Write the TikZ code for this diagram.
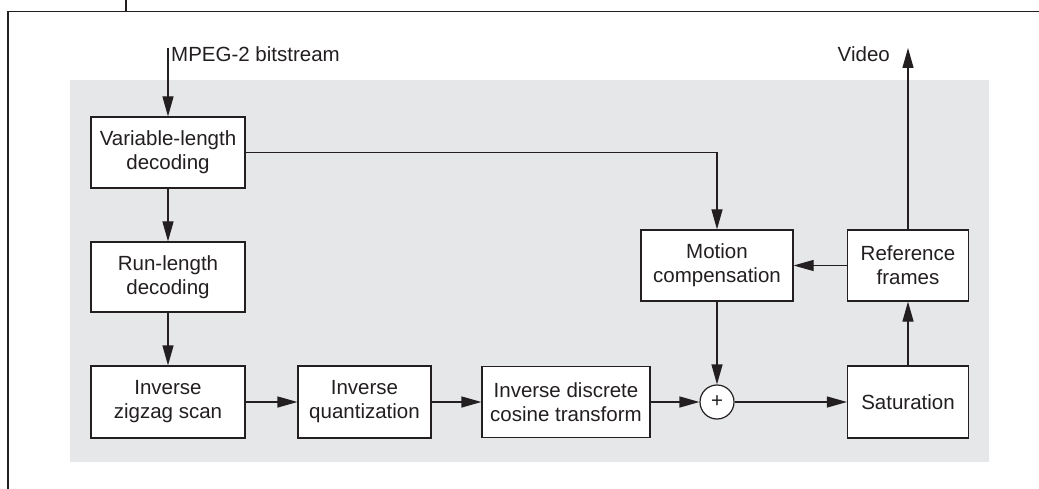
\documentclass[tikz,border=0pt]{standalone}
\usepackage{fontspec}
\setmainfont{Liberation Sans}
\usetikzlibrary{arrows.meta}
\definecolor{panel}{RGB}{230,231,233}
\definecolor{ink}{RGB}{35,31,32}
\begin{document}
\begin{tikzpicture}[x=1pt,y=-1pt,
  every node/.style={font=\fontsize{20.5}{24}\selectfont, text=ink},
  block/.style={draw=ink, line width=1.2pt, fill=white, align=center, inner sep=0pt},
  sumnode/.style={draw=ink, line width=1.2pt, fill=white, circle, minimum size=34pt, inner sep=0pt},
  label/.style={inner sep=0pt},
  flow/.style={draw=ink, line width=1.2pt, -{Triangle[length=20pt,width=11pt]}},
  frame/.style={draw=ink, line width=1.3pt}
]
\useasboundingbox (0,0) rectangle (1039,489);

% outer frame
\draw[frame] (126,0) -- (126,11.7);
\draw[frame] (1039,11.7) -- (8,11.7) -- (8,489);

% shaded decoder area
\fill[panel] (70,80) rectangle (989,462);

% processing blocks
\node[block, minimum width=154pt, minimum height=71pt] (vld) at (168,152.5) {Variable-length\\decoding};
\node[block, minimum width=154pt, minimum height=70pt] (rld) at (168,277) {Run-length\\decoding};
\node[block, minimum width=154pt, minimum height=72pt] (izz) at (168,402) {Inverse\\zigzag scan};
\node[block, minimum width=133pt, minimum height=72pt] (iq) at (364.5,402) {Inverse\\quantization};
\node[block, minimum width=168pt, minimum height=71pt] (idct) at (566,402) {Inverse discrete\\cosine transform};
\node[block, minimum width=152pt, minimum height=71pt] (mc) at (717,265.5) {Motion\\compensation};
\node[block, minimum width=121pt, minimum height=71pt] (rf) at (908,265.5) {Reference\\frames};
\node[block, minimum width=121pt, minimum height=72pt] (sat) at (908,402) {Saturation};
\node[sumnode] (sum) at (717,402) {+};

% input and output labels
\node[label, anchor=base west] (inlabel) at (171,62) {MPEG-2 bitstream};
\node[label, anchor=base east] (outlabel) at (890,62) {Video};
\coordinate (bitin) at (168,48);
\coordinate (vidout) at (908,48);

% data flow
\draw[flow] (bitin) -- (vld.north);
\draw[flow] (vld) -- (rld);
\draw[flow] (rld) -- (izz);
\draw[flow] (izz) -- (iq);
\draw[flow] (iq) -- (idct);
\draw[flow] (idct) -- (sum);
\draw[flow] (sum) -- (sat);
\draw[flow] (sat) -- (rf);
\draw[flow] (rf) -- (mc);
\draw[flow] (mc) -- (sum);
\draw[flow] (vld.east) -| (mc.north);
\draw[flow] (rf.north) -- (vidout);
\end{tikzpicture}
\end{document}
